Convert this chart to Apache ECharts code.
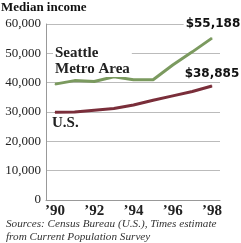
<!DOCTYPE html>
<html>
<head>
<meta charset="utf-8">
<script src="https://cdn.jsdelivr.net/npm/echarts@6/dist/echarts.min.js"></script>
<style>
  html, body { margin: 0; padding: 0; background: #fff; }
  #chart { width: 241px; height: 243px; }
</style>
</head>
<body>
<div id="chart"></div>
<script>
const YEARS = [1990, 1991, 1992, 1993, 1994, 1995, 1996, 1997, 1998];
const YEAR_LABELS = [1990, 1992, 1994, 1996, 1998];
const SEATTLE = [39500, 40700, 40400, 42000, 41000, 41000, 46000, 50500, 55188];
const US = [29900, 30000, 30600, 31200, 32400, 34000, 35500, 37000, 38885];

const SERIF = "'Liberation Serif', 'DejaVu Serif', serif";
const SANS = "'DejaVu Sans', Verdana, sans-serif";

function toPairs(values) {
  return values.map((value, i) => {
    const point = [YEARS[i], value];
    if (i === values.length - 1) {
      return {
        value: point,
        label: {
          show: true,
          formatter: "$" + value.toLocaleString("en-US"),
        },
      };
    }
    return point;
  });
}

function endLabel(offset) {
  return {
    show: false,
    position: "top",
    offset: offset,
    fontFamily: SANS,
    fontWeight: "bold",
    fontSize: 12,
    color: "#111",
    backgroundColor: "#fff",
    padding: [1, 2],
  };
}

const chart = echarts.init(document.getElementById("chart"));

chart.setOption({
  animation: false,
  grid: { left: 46, right: 21, top: 24, bottom: 43 },
  xAxis: {
    type: "value",
    min: 1989.54,
    max: 1998.41,
    splitLine: { show: false },
    axisLine: { lineStyle: { color: "#999", width: 1 } },
    axisTick: { show: false },
    axisLabel: {
      customValues: YEAR_LABELS,
      formatter: (v) => "\u2019" + String(v).slice(2),
      fontFamily: SERIF,
      fontWeight: "bold",
      fontSize: 15,
      color: "#222",
      margin: 4,
    },
  },
  yAxis: {
    type: "value",
    min: 0,
    max: 60000,
    interval: 10000,
    axisLine: { show: true, lineStyle: { color: "#999", width: 1 } },
    axisTick: { show: false },
    splitLine: { lineStyle: { color: "#bbb", width: 1 } },
    axisLabel: {
      formatter: (v) => v.toLocaleString("en-US"),
      fontFamily: SERIF,
      fontSize: 13,
      color: "#222",
      margin: 5,
    },
  },
  series: [
    {
      name: "Seattle Metro Area",
      type: "line",
      data: toPairs(SEATTLE),
      symbol: "circle",
      symbolSize: 1,
      itemStyle: { color: "#7b9a5f" },
      lineStyle: { color: "#7b9a5f", width: 3 },
      label: endLabel([1, -2]),
      z: 3,
    },
    {
      name: "U.S.",
      type: "line",
      data: toPairs(US),
      symbol: "circle",
      symbolSize: 1,
      itemStyle: { color: "#7a2e3a" },
      lineStyle: { color: "#7a2e3a", width: 3 },
      label: endLabel([0, 0]),
      z: 3,
    },
  ],
  graphic: [
    {
      type: "text",
      left: 1,
      top: 1,
      style: { text: "Median income", font: "bold 13px " + SERIF, fill: "#111" },
    },
    {
      type: "text",
      left: 53,
      top: 45,
      z: 10,
      style: {
        text: "Seattle\nMetro Area",
        font: "bold 15px " + SERIF,
        lineHeight: 16,
        fill: "#222",
        backgroundColor: "#fff",
        padding: [0, 2],
      },
    },
    {
      type: "text",
      left: 52,
      top: 116,
      z: 10,
      style: { text: "U.S.", font: "bold 15px " + SERIF, fill: "#222" },
    },
    {
      type: "text",
      left: 6,
      top: 218,
      style: {
        text: "Sources: Census Bureau (U.S.), Times estimate\nfrom Current Population Survey",
        font: "italic 11.2px " + SERIF,
        lineHeight: 13,
        fill: "#333",
      },
    },
  ],
});
</script>
</body>
</html>
